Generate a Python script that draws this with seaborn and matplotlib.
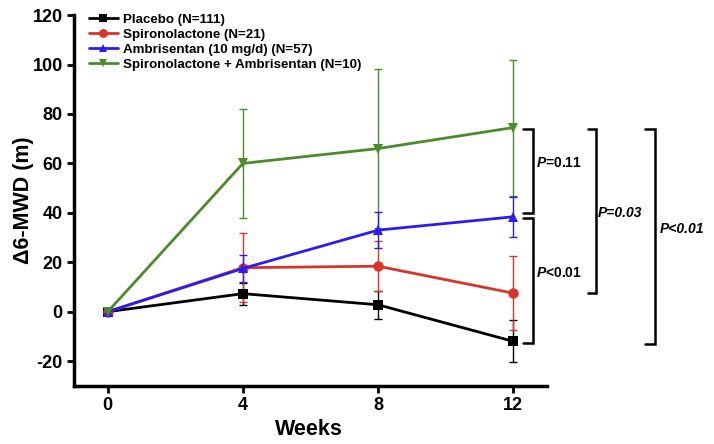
import numpy as np
import pandas as pd
import matplotlib
matplotlib.use("Agg")
import matplotlib.pyplot as plt
import seaborn as sns

# values
weeks = [0, 4, 8, 12]
groups = ["Placebo (N=111)", "Spironolactone (N=21)",
          "Ambrisentan (10 mg/d) (N=57)", "Spironolactone + Ambrisentan (N=10)"]
placebo = [0, 7.3, 2.8, -12.0]
placebo_err = [0, 4.5, 5.7, 8.5]
spiro = [0, 17.8, 18.4, 7.5]
spiro_err = [0, 14.0, 10.0, 15.0]
ambri = [0, 17.5, 33.0, 38.4]
ambri_err = [0, 5.6, 7.2, 8.0]
combo = [0, 60.0, 66.0, 74.5]
combo_err = [0, 22.0, 32.0, 27.5]

colors = ["#000000", "#d8352a", "#2b1cf2", "#4b8b2b"]
markers = ["s", "o", "^", "v"]

rows = []
for g, vals in zip(groups, [placebo, spiro, ambri, combo]):
    for w, v in zip(weeks, vals):
        rows.append({"Weeks": w, "change": v, "group": g})
df = pd.DataFrame(rows)

sns.set_theme(style="ticks")
plt.rcParams["font.family"] = ["Liberation Sans", "DejaVu Sans"]
plt.rcParams["font.weight"] = "bold"
plt.rcParams["text.color"] = "black"
plt.rcParams["axes.labelcolor"] = "black"
plt.rcParams["axes.unicode_minus"] = False
plt.rcParams["mathtext.fontset"] = "custom"
plt.rcParams["mathtext.it"] = "Liberation Sans:italic:bold"
plt.rcParams["mathtext.rm"] = "Liberation Sans:bold"

fig = plt.figure(figsize=(7.14, 4.44), dpi=100)
ax = fig.add_axes([0.1036, 0.131, 0.6625, 0.835])

# error bars first (thin, capped)
draw_order = [3, 0, 1, 2]
for i in draw_order:
    vals = [placebo, spiro, ambri, combo][i]
    errs = [placebo_err, spiro_err, ambri_err, combo_err][i]
    ax.errorbar(weeks, vals, yerr=errs, fmt="none", ecolor=colors[i],
                elinewidth=1.0, capsize=3, capthick=1.0, zorder=1 + draw_order.index(i))

sns.lineplot(data=df, x="Weeks", y="change", hue="group", style="group",
             hue_order=groups, style_order=groups, palette=colors,
             markers=markers, dashes=False, markersize=7.5, linewidth=2,
             markeredgewidth=0, ax=ax, zorder=5, legend=True)

ax.set_xlim(-1, 13)
ax.set_ylim(-30, 120)
ax.set_xticks(weeks)
ax.set_yticks(np.arange(-20, 121, 20))
ax.tick_params(axis="both", direction="out", length=5, width=2, labelsize=13,
               colors="black", pad=3)
for lab in ax.get_xticklabels() + ax.get_yticklabels():
    lab.set_fontweight("bold")
for s in ["left", "bottom"]:
    ax.spines[s].set_linewidth(2.5)
    ax.spines[s].set_color("black")
sns.despine(ax=ax)
ax.set_xlabel("Weeks", fontsize=15.5, fontweight="bold")
ax.xaxis.set_label_coords(0.497, -0.09)
ax.set_ylabel("\u03946-MWD (m)", fontsize=15.5, fontweight="bold", labelpad=-1)

leg = ax.legend(loc="upper left", bbox_to_anchor=(0.02, 1.018), frameon=False,
                fontsize=9.6, handlelength=2.2, handletextpad=0.4,
                labelspacing=0.2, borderaxespad=0, markerscale=0.85)
for t in leg.get_texts():
    t.set_fontweight("bold")
    t.set_color("black")

# significance brackets outside the axes
def bracket(x0, x1, ytop, ybot):
    ax.plot([x0, x1, x1, x0], [ytop, ytop, ybot, ybot], color="black",
            linewidth=1.8, clip_on=False, solid_joinstyle="miter")

bracket(12.3, 12.6, 74.0, 40.0)
bracket(12.3, 12.6, 38.0, -12.5)
bracket(14.2, 14.45, 74.0, 7.7)
bracket(15.9, 16.2, 74.0, -13.0)

ax.text(12.68, 60, r"$P$=0.11", fontsize=10, fontweight="bold", va="center",
        ha="left", clip_on=False)
ax.text(12.68, 15.5, r"$P$<0.01", fontsize=10, fontweight="bold", va="center",
        ha="left", clip_on=False)
ax.text(14.5, 40, "P=0.03", fontsize=10, fontweight="bold", style="italic",
        va="center", ha="left", clip_on=False)
ax.text(16.35, 33.5, "P<0.01", fontsize=10, fontweight="bold", style="italic",
        va="center", ha="left", clip_on=False)

fig.savefig("out.png", dpi=100)
